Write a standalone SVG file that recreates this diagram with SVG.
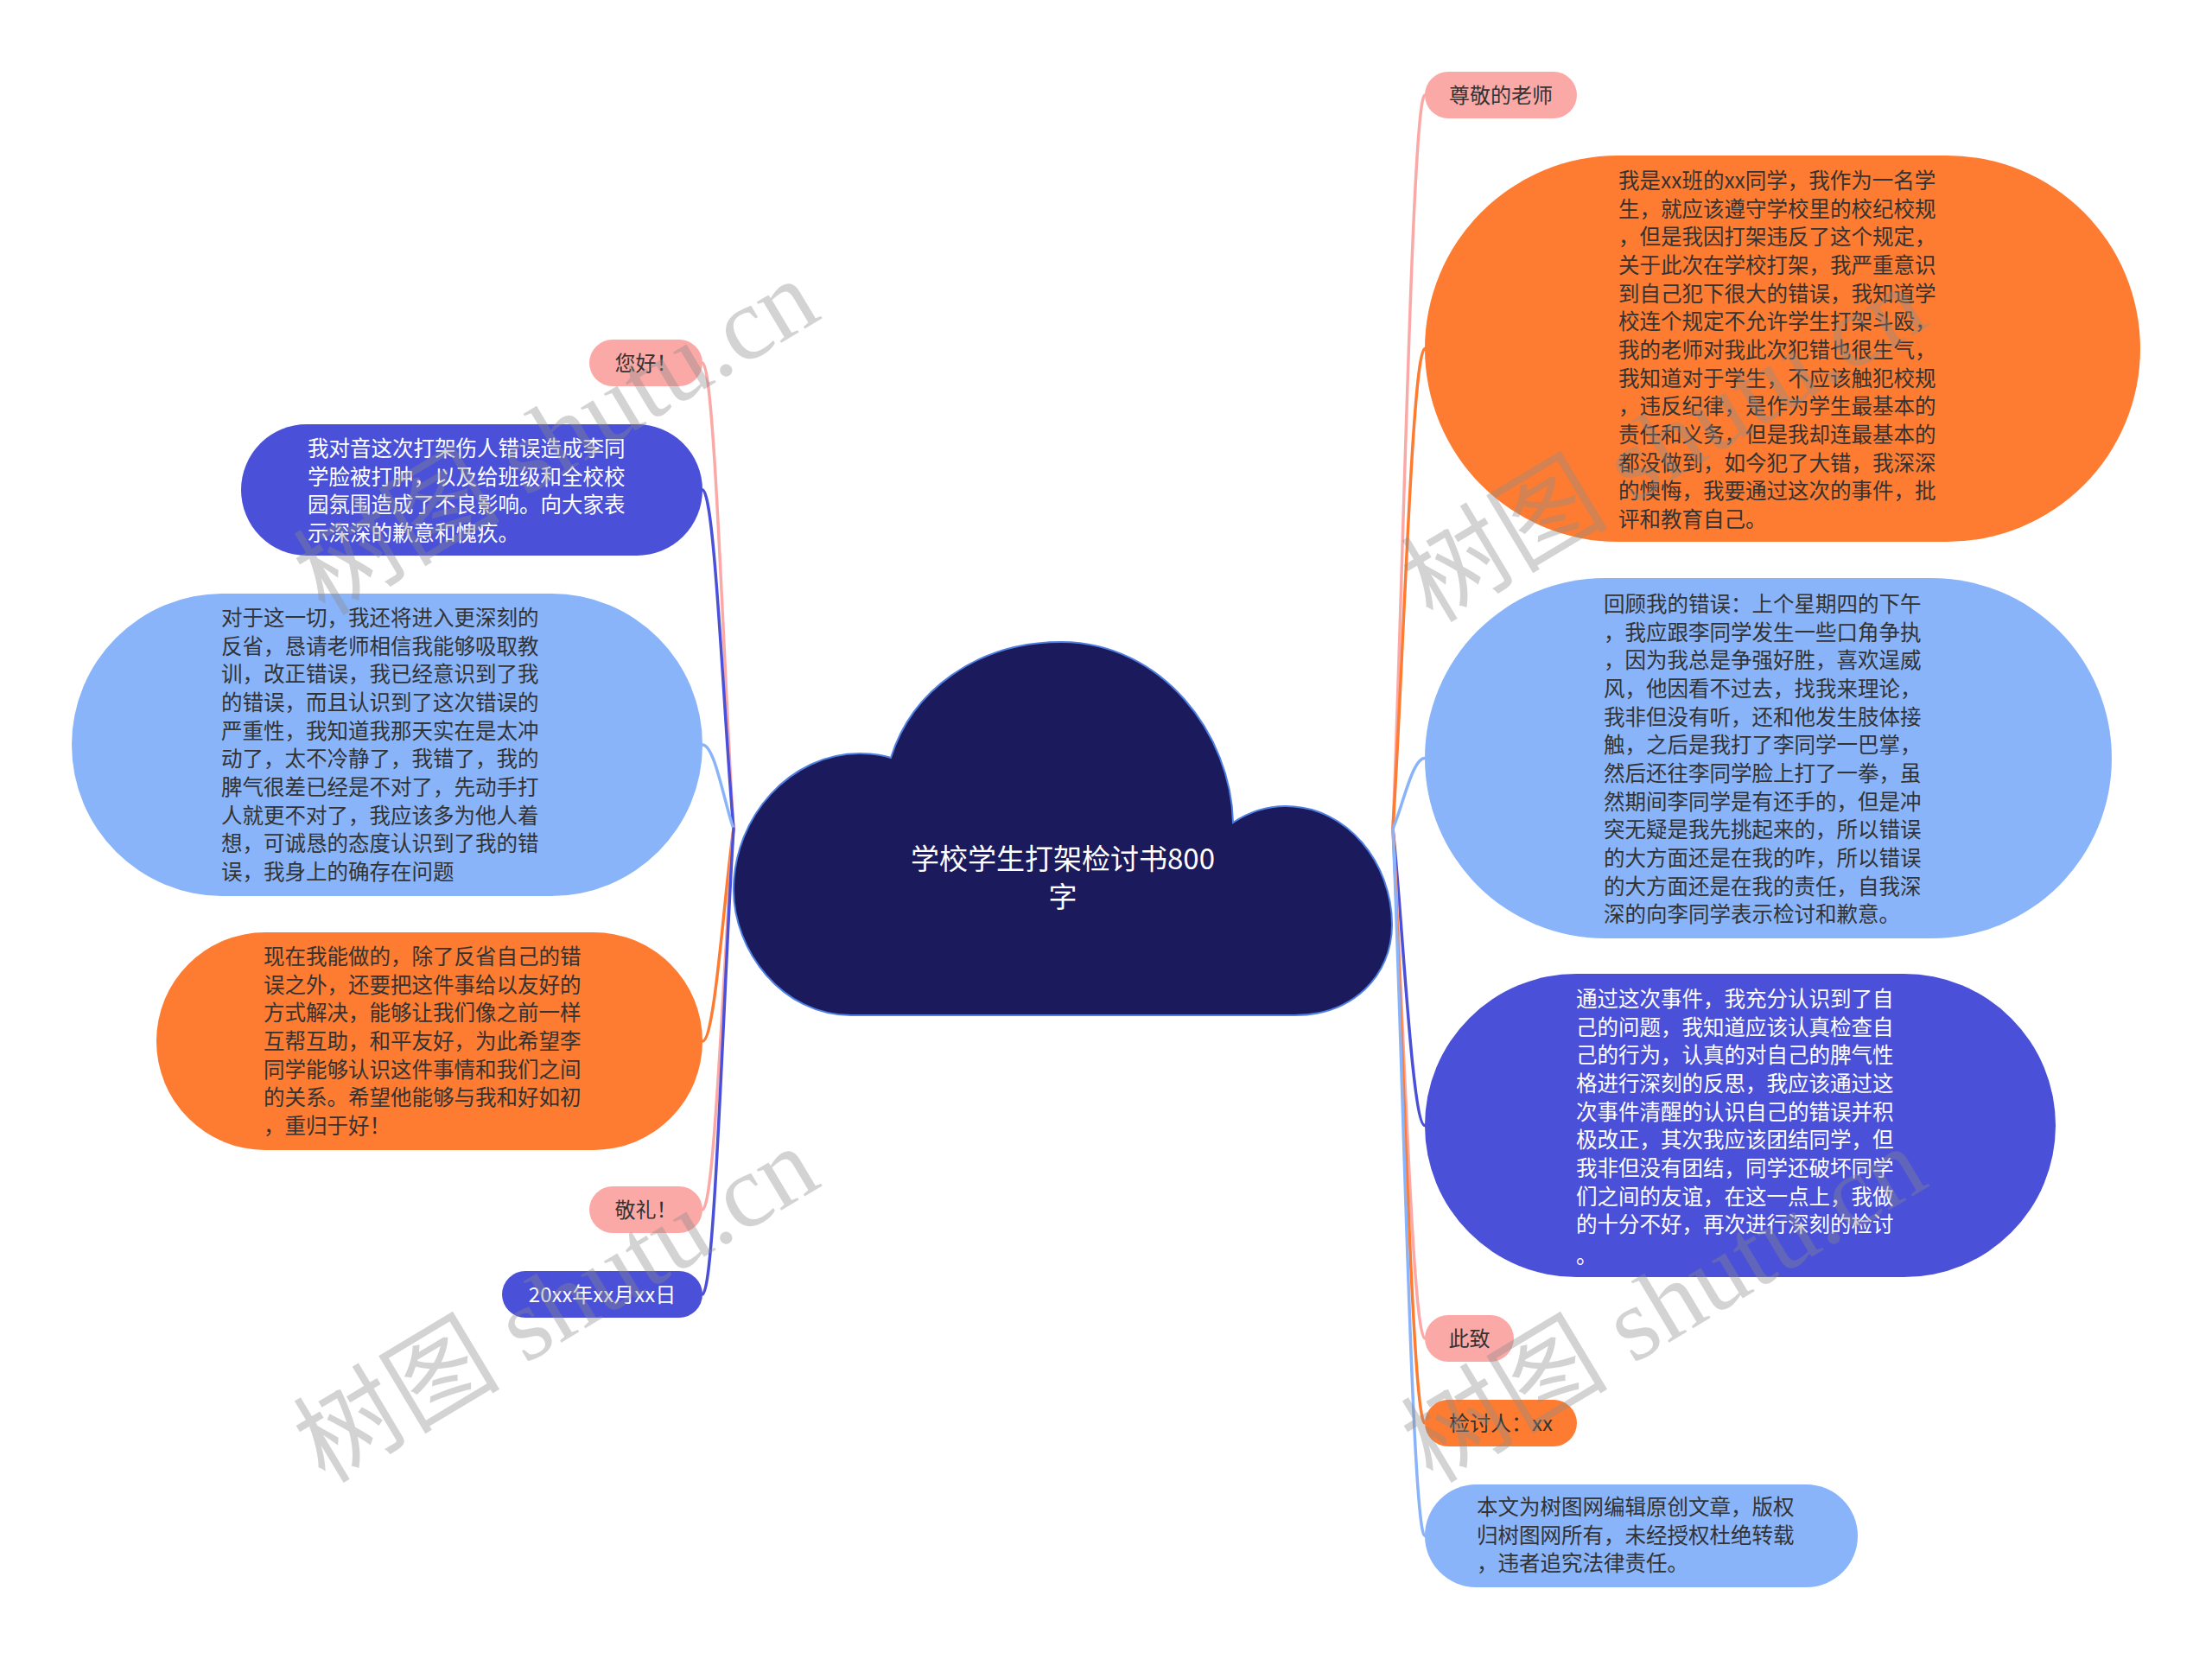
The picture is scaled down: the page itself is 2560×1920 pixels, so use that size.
<svg xmlns="http://www.w3.org/2000/svg" width="2560" height="1920" viewBox="0 0 2560 1920">
<style>
.t{font-family:"Noto Sans CJK SC","Noto Sans",sans-serif;font-size:24.5px;fill:#333333}
.w{fill:#ffffff}
.c{text-anchor:middle}
.pink{fill:#FBA9A7}
.orange{fill:#FD7C31}
.lblue{fill:#89B4F9}
.dblue{fill:#4A50D7}
.ln{fill:none;stroke-width:3.5;stroke-linecap:round}
.wm{font-family:"Liberation Serif","Noto Sans CJK SC",serif;font-size:120px;fill:#8c8c8c;fill-opacity:0.38}
</style>
<rect width="2560" height="1920" fill="#ffffff"/>
<g id="connectors">
<path class="ln" stroke="#FBA9A7" d="M1612 959 C1623.1 704.3 1634.2 110 1649 110"/>
<path class="ln" stroke="#FD7C31" d="M1612 959 C1623.1 792.4 1634.2 403.5 1649 403.5"/>
<path class="ln" stroke="#89B4F9" d="M1612 959 C1623.1 934.5 1634.2 877.5 1649 877.5"/>
<path class="ln" stroke="#4A50D7" d="M1612 959 C1623.1 1062 1634.2 1302.5 1649 1302.5"/>
<path class="ln" stroke="#FBA9A7" d="M1612 959 C1623.1 1136 1634.2 1549 1649 1549"/>
<path class="ln" stroke="#FD7C31" d="M1612 959 C1623.1 1165.4 1634.2 1647 1649 1647"/>
<path class="ln" stroke="#89B4F9" d="M1612 959 C1623.1 1204.6 1634.2 1777.5 1649 1777.5"/>
<path class="ln" stroke="#FBA9A7" d="M849 959 C838.2 797.3 827.4 420 813 420"/>
<path class="ln" stroke="#4A50D7" d="M849 959 C838.2 841.4 827.4 567 813 567"/>
<path class="ln" stroke="#89B4F9" d="M849 959 C838.2 929.9 827.4 862 813 862"/>
<path class="ln" stroke="#FD7C31" d="M849 959 C838.2 1032.8 827.4 1205 813 1205"/>
<path class="ln" stroke="#FBA9A7" d="M849 959 C838.2 1091.3 827.4 1400 813 1400"/>
<path class="ln" stroke="#4A50D7" d="M849 959 C838.2 1120.7 827.4 1498 813 1498"/>
</g>
<g id="center">
<path d="M985 1175 C905 1175 849 1100 849 1030 C849 945 915 872 995 872 C1010 872 1022 874 1031 877 C1055 800 1130 743 1228 743 C1345 743 1425 850 1427 952 C1445 940 1465 933 1488 933 C1560 933 1611 1000 1611 1070 C1611 1130 1565 1175 1498 1175 Z" fill="#1A1A5C" stroke="#4F7FE0" stroke-width="2"/>
<text class="t w c" style="font-size:33px" x="1230" y="1006">学校学生打架检讨书800</text>
<text class="t w c" style="font-size:33px" x="1230" y="1050">字</text>
</g>
<g id="r1">
<rect class="pink" x="1649" y="83" width="176" height="54" rx="27"/>
<text class="t c" style="font-size:24px" x="1737" y="119">尊敬的老师</text>
</g>
<g id="r2">
<rect class="orange" x="1649" y="180" width="828" height="447" rx="223.5"/>
<text class="t" x="1873" y="218"><tspan x="1873">我是xx班的xx同学，我作为一名学</tspan><tspan x="1873" dy="32.65">生，就应该遵守学校里的校纪校规</tspan><tspan x="1873" dy="32.65">，但是我因打架违反了这个规定，</tspan><tspan x="1873" dy="32.65">关于此次在学校打架，我严重意识</tspan><tspan x="1873" dy="32.65">到自己犯下很大的错误，我知道学</tspan><tspan x="1873" dy="32.65">校连个规定不允许学生打架斗殴，</tspan><tspan x="1873" dy="32.65">我的老师对我此次犯错也很生气，</tspan><tspan x="1873" dy="32.65">我知道对于学生，不应该触犯校规</tspan><tspan x="1873" dy="32.65">，违反纪律，是作为学生最基本的</tspan><tspan x="1873" dy="32.65">责任和义务，但是我却连最基本的</tspan><tspan x="1873" dy="32.65">都没做到，如今犯了大错，我深深</tspan><tspan x="1873" dy="32.65">的懊悔，我要通过这次的事件，批</tspan><tspan x="1873" dy="32.65">评和教育自己。</tspan></text>
</g>
<g id="r3">
<rect class="lblue" x="1649" y="669" width="795" height="417" rx="208.5"/>
<text class="t" x="1856" y="708"><tspan x="1856">回顾我的错误：上个星期四的下午</tspan><tspan x="1856" dy="32.65">，我应跟李同学发生一些口角争执</tspan><tspan x="1856" dy="32.65">，因为我总是争强好胜，喜欢逞威</tspan><tspan x="1856" dy="32.65">风，他因看不过去，找我来理论，</tspan><tspan x="1856" dy="32.65">我非但没有听，还和他发生肢体接</tspan><tspan x="1856" dy="32.65">触，之后是我打了李同学一巴掌，</tspan><tspan x="1856" dy="32.65">然后还往李同学脸上打了一拳，虽</tspan><tspan x="1856" dy="32.65">然期间李同学是有还手的，但是冲</tspan><tspan x="1856" dy="32.65">突无疑是我先挑起来的，所以错误</tspan><tspan x="1856" dy="32.65">的大方面还是在我的咋，所以错误</tspan><tspan x="1856" dy="32.65">的大方面还是在我的责任，自我深</tspan><tspan x="1856" dy="32.65">深的向李同学表示检讨和歉意。</tspan></text>
</g>
<g id="r4">
<rect class="dblue" x="1649" y="1127" width="730" height="351" rx="175.5"/>
<text class="t w" x="1824" y="1165"><tspan x="1824">通过这次事件，我充分认识到了自</tspan><tspan x="1824" dy="32.65">己的问题，我知道应该认真检查自</tspan><tspan x="1824" dy="32.65">己的行为，认真的对自己的脾气性</tspan><tspan x="1824" dy="32.65">格进行深刻的反思，我应该通过这</tspan><tspan x="1824" dy="32.65">次事件清醒的认识自己的错误并积</tspan><tspan x="1824" dy="32.65">极改正，其次我应该团结同学，但</tspan><tspan x="1824" dy="32.65">我非但没有团结，同学还破坏同学</tspan><tspan x="1824" dy="32.65">们之间的友谊，在这一点上，我做</tspan><tspan x="1824" dy="32.65">的十分不好，再次进行深刻的检讨</tspan><tspan x="1824" dy="36">。</tspan></text>
</g>
<g id="r5">
<rect class="pink" x="1649" y="1522" width="103" height="54" rx="27"/>
<text class="t c" style="font-size:24px" x="1700.5" y="1558">此致</text>
</g>
<g id="r6">
<rect class="orange" x="1649" y="1620" width="176" height="54" rx="27"/>
<text class="t c" style="font-size:24px" x="1737" y="1656">检讨人：xx</text>
</g>
<g id="r7">
<rect class="lblue" x="1649" y="1718" width="501" height="119" rx="59.5"/>
<text class="t" x="1709" y="1753"><tspan x="1709">本文为树图网编辑原创文章，版权</tspan><tspan x="1709" dy="32.65">归树图网所有，未经授权杜绝转载</tspan><tspan x="1709" dy="32.65">，违者追究法律责任。</tspan></text>
</g>
<g id="l1">
<rect class="pink" x="682" y="393" width="131" height="54" rx="27"/>
<text class="t c" style="font-size:24px" x="747.5" y="429">您好！</text>
</g>
<g id="l2">
<rect class="dblue" x="279" y="491" width="534" height="152" rx="76"/>
<text class="t w" x="356" y="528"><tspan x="356">我对音这次打架伤人错误造成李同</tspan><tspan x="356" dy="32.65">学脸被打肿，以及给班级和全校校</tspan><tspan x="356" dy="32.65">园氛围造成了不良影响。向大家表</tspan><tspan x="356" dy="32.65">示深深的歉意和愧疚。</tspan></text>
</g>
<g id="l3">
<rect class="lblue" x="83" y="687" width="730" height="350" rx="175"/>
<text class="t" x="256" y="724"><tspan x="256">对于这一切，我还将进入更深刻的</tspan><tspan x="256" dy="32.65">反省，恳请老师相信我能够吸取教</tspan><tspan x="256" dy="32.65">训，改正错误，我已经意识到了我</tspan><tspan x="256" dy="32.65">的错误，而且认识到了这次错误的</tspan><tspan x="256" dy="32.65">严重性，我知道我那天实在是太冲</tspan><tspan x="256" dy="32.65">动了，太不冷静了，我错了，我的</tspan><tspan x="256" dy="32.65">脾气很差已经是不对了，先动手打</tspan><tspan x="256" dy="32.65">人就更不对了，我应该多为他人着</tspan><tspan x="256" dy="32.65">想，可诚恳的态度认识到了我的错</tspan><tspan x="256" dy="32.65">误，我身上的确存在问题</tspan></text>
</g>
<g id="l4">
<rect class="orange" x="181" y="1079" width="632" height="252" rx="126"/>
<text class="t" x="305" y="1116"><tspan x="305">现在我能做的，除了反省自己的错</tspan><tspan x="305" dy="32.65">误之外，还要把这件事给以友好的</tspan><tspan x="305" dy="32.65">方式解决，能够让我们像之前一样</tspan><tspan x="305" dy="32.65">互帮互助，和平友好，为此希望李</tspan><tspan x="305" dy="32.65">同学能够认识这件事情和我们之间</tspan><tspan x="305" dy="32.65">的关系。希望他能够与我和好如初</tspan><tspan x="305" dy="32.65">，重归于好！</tspan></text>
</g>
<g id="l5">
<rect class="pink" x="682" y="1373" width="131" height="54" rx="27"/>
<text class="t c" style="font-size:24px" x="747.5" y="1409">敬礼！</text>
</g>
<g id="l6">
<rect class="dblue" x="581" y="1471" width="232" height="54" rx="27"/>
<text class="t w c" style="font-size:24px" x="697" y="1507">20xx年xx月xx日</text>
</g>
<g id="watermarks">
<text class="wm" transform="translate(376 714) rotate(-31)">树图 shutu.cn</text>
<text class="wm" transform="translate(376 1718) rotate(-31)">树图 shutu.cn</text>
<text class="wm" transform="translate(1658 722) rotate(-31)">树图 shutu.cn</text>
<text class="wm" transform="translate(1658 1718) rotate(-31)">树图 shutu.cn</text>
</g>
</svg>
